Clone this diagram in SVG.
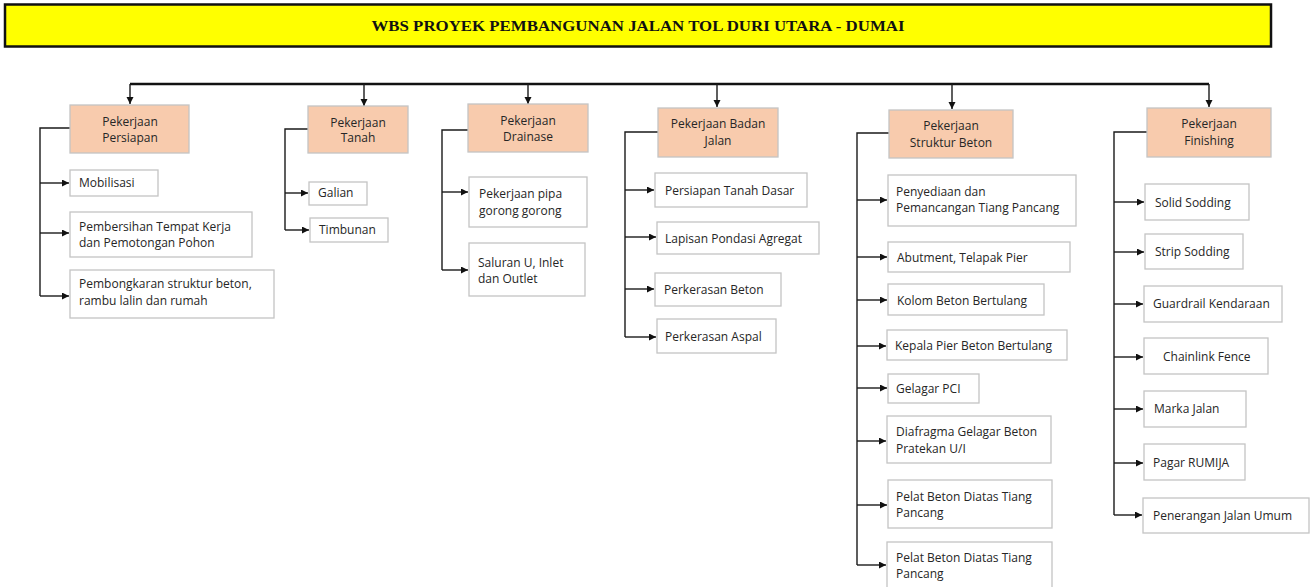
<svg xmlns="http://www.w3.org/2000/svg" width="1312" height="587" viewBox="0 0 1312 587">
<style>
.t{font-family:"Open Sans","Noto Sans",sans-serif;font-size:12px;fill:#262626}
.c{text-anchor:middle}
.h{fill:#F8CBAD;stroke:#C4C4C4;stroke-width:1.3}
.b{fill:#FFFFFF;stroke:#C4C4C4;stroke-width:1.3}
.ln{fill:none;stroke:#1a1a1a;stroke-width:1.4}
.top{fill:none;stroke:#111;stroke-width:2.5}
</style>
<defs>
<marker id="ar" markerUnits="userSpaceOnUse" markerWidth="8" markerHeight="8" refX="7" refY="3.5" orient="auto">
<path d="M0,0 L7,3.5 L0,7 z" fill="#111"/>
</marker>
</defs>
<rect width="1312" height="587" fill="#FFFFFF"/>
<g id="title">
<rect x="5" y="4.5" width="1266" height="42" fill="#FFFF00" stroke="#111" stroke-width="2.5"/>
<text x="638" y="31" text-anchor="middle" font-family="'Liberation Serif',serif" font-weight="bold" font-size="15" fill="#111" textLength="533" lengthAdjust="spacingAndGlyphs">WBS PROYEK PEMBANGUNAN JALAN TOL DURI UTARA - DUMAI</text>
</g>
<g id="connectors">
<path class="top" d="M130,84 H1209"/>
<path class="ln" d="M130,84 V104" marker-end="url(#ar)"/>
<path class="ln" d="M364,84 V106" marker-end="url(#ar)"/>
<path class="ln" d="M528,84 V104" marker-end="url(#ar)"/>
<path class="ln" d="M717,84 V107" marker-end="url(#ar)"/>
<path class="ln" d="M952,84 V109" marker-end="url(#ar)"/>
<path class="ln" d="M1209,84 V107" marker-end="url(#ar)"/>
<path class="ln" d="M70,128 H40 V296"/>
<path class="ln" d="M40,183 H69" marker-end="url(#ar)"/>
<path class="ln" d="M40,233 H69" marker-end="url(#ar)"/>
<path class="ln" d="M40,296 H69" marker-end="url(#ar)"/>
<path class="ln" d="M308,129 H285 V230"/>
<path class="ln" d="M285,193 H308" marker-end="url(#ar)"/>
<path class="ln" d="M285,230 H309" marker-end="url(#ar)"/>
<path class="ln" d="M468,130 H442 V270"/>
<path class="ln" d="M442,192 H468" marker-end="url(#ar)"/>
<path class="ln" d="M442,270 H468" marker-end="url(#ar)"/>
<path class="ln" d="M658,132 H625 V337"/>
<path class="ln" d="M625,190 H654" marker-end="url(#ar)"/>
<path class="ln" d="M625,237 H656" marker-end="url(#ar)"/>
<path class="ln" d="M625,289 H654" marker-end="url(#ar)"/>
<path class="ln" d="M625,337 H656" marker-end="url(#ar)"/>
<path class="ln" d="M889,133 H857 V565"/>
<path class="ln" d="M857,200 H887" marker-end="url(#ar)"/>
<path class="ln" d="M857,257 H887" marker-end="url(#ar)"/>
<path class="ln" d="M857,300 H887" marker-end="url(#ar)"/>
<path class="ln" d="M857,346 H886" marker-end="url(#ar)"/>
<path class="ln" d="M857,388 H887" marker-end="url(#ar)"/>
<path class="ln" d="M857,441 H886" marker-end="url(#ar)"/>
<path class="ln" d="M857,505 H887" marker-end="url(#ar)"/>
<path class="ln" d="M857,565 H886" marker-end="url(#ar)"/>
<path class="ln" d="M1147,132 H1114 V515"/>
<path class="ln" d="M1114,202 H1144" marker-end="url(#ar)"/>
<path class="ln" d="M1114,252 H1144" marker-end="url(#ar)"/>
<path class="ln" d="M1114,304 H1143" marker-end="url(#ar)"/>
<path class="ln" d="M1114,357 H1143" marker-end="url(#ar)"/>
<path class="ln" d="M1114,409 H1143" marker-end="url(#ar)"/>
<path class="ln" d="M1114,463 H1143" marker-end="url(#ar)"/>
<path class="ln" d="M1114,515 H1142" marker-end="url(#ar)"/>
</g>
<g id="n-persiapan"><rect class="h" x="70" y="105" width="119" height="48"/><text class="t c" x="130" y="126">Pekerjaan</text><text class="t c" x="130" y="142">Persiapan</text></g>
<g id="n-mobilisasi"><rect class="b" x="70" y="170" width="88" height="26"/><text class="t" x="79" y="187">Mobilisasi</text></g>
<g id="n-pembersihan"><rect class="b" x="70" y="212" width="182" height="45"/><text class="t" x="79" y="231">Pembersihan Tempat Kerja</text><text class="t" x="79" y="247">dan Pemotongan Pohon</text></g>
<g id="n-pembongkaran"><rect class="b" x="70" y="270" width="204" height="48"/><text class="t" x="79" y="288">Pembongkaran struktur beton,</text><text class="t" x="79" y="305">rambu lalin dan rumah</text></g>
<g id="n-tanah"><rect class="h" x="308" y="106" width="100" height="47"/><text class="t c" x="358" y="127">Pekerjaan</text><text class="t c" x="358" y="142">Tanah</text></g>
<g id="n-galian"><rect class="b" x="309" y="182" width="58" height="23"/><text class="t" x="318" y="197">Galian</text></g>
<g id="n-timbunan"><rect class="b" x="310" y="218" width="78" height="24"/><text class="t" x="319" y="234">Timbunan</text></g>
<g id="n-drainase"><rect class="h" x="468" y="104" width="120" height="48"/><text class="t c" x="528" y="125">Pekerjaan</text><text class="t c" x="528" y="141">Drainase</text></g>
<g id="n-pipa"><rect class="b" x="469" y="177" width="118" height="50"/><text class="t" x="479" y="198">Pekerjaan pipa</text><text class="t" x="479" y="215">gorong gorong</text></g>
<g id="n-saluran"><rect class="b" x="469" y="243" width="116" height="53"/><text class="t" x="478" y="267">Saluran U, Inlet</text><text class="t" x="478" y="283">dan Outlet</text></g>
<g id="n-badan"><rect class="h" x="658" y="108" width="120" height="49"/><text class="t c" x="718" y="128">Pekerjaan Badan</text><text class="t c" x="718" y="145">Jalan</text></g>
<g id="n-tanahdasar"><rect class="b" x="655" y="173" width="152" height="34"/><text class="t" x="665" y="195">Persiapan Tanah Dasar</text></g>
<g id="n-lapisan"><rect class="b" x="657" y="222" width="162" height="32"/><text class="t" x="665" y="243">Lapisan Pondasi Agregat</text></g>
<g id="n-pbeton"><rect class="b" x="655" y="273" width="126" height="33"/><text class="t" x="664" y="294">Perkerasan Beton</text></g>
<g id="n-paspal"><rect class="b" x="657" y="319" width="119" height="34"/><text class="t" x="665" y="341">Perkerasan Aspal</text></g>
<g id="n-struktur"><rect class="h" x="889" y="110" width="124" height="48"/><text class="t c" x="951" y="130">Pekerjaan</text><text class="t c" x="951" y="147">Struktur Beton</text></g>
<g id="n-penyediaan"><rect class="b" x="888" y="175" width="188" height="51"/><text class="t" x="896" y="196">Penyediaan dan</text><text class="t" x="896" y="212">Pemancangan Tiang Pancang</text></g>
<g id="n-abutment"><rect class="b" x="888" y="242" width="182" height="30"/><text class="t" x="897" y="262">Abutment, Telapak Pier</text></g>
<g id="n-kolom"><rect class="b" x="888" y="284" width="156" height="31"/><text class="t" x="897" y="305">Kolom Beton Bertulang</text></g>
<g id="n-kepala"><rect class="b" x="887" y="330" width="180" height="30"/><text class="t" x="895" y="350">Kepala Pier Beton Bertulang</text></g>
<g id="n-gelagar"><rect class="b" x="888" y="374" width="91" height="29"/><text class="t" x="896" y="393">Gelagar PCI</text></g>
<g id="n-diafragma"><rect class="b" x="887" y="416" width="164" height="47"/><text class="t" x="896" y="436">Diafragma Gelagar Beton</text><text class="t" x="896" y="453">Pratekan U/I</text></g>
<g id="n-pelat1"><rect class="b" x="888" y="480" width="164" height="48"/><text class="t" x="896" y="501">Pelat Beton Diatas Tiang</text><text class="t" x="896" y="517">Pancang</text></g>
<g id="n-pelat2"><rect class="b" x="887" y="542" width="165" height="50"/><text class="t" x="896" y="562">Pelat Beton Diatas Tiang</text><text class="t" x="896" y="578">Pancang</text></g>
<g id="n-finishing"><rect class="h" x="1147" y="108" width="124" height="49"/><text class="t c" x="1209" y="128">Pekerjaan</text><text class="t c" x="1209" y="145">Finishing</text></g>
<g id="n-solid"><rect class="b" x="1145" y="184" width="104" height="36"/><text class="t" x="1155" y="207">Solid Sodding</text></g>
<g id="n-strip"><rect class="b" x="1145" y="234" width="98" height="35"/><text class="t" x="1155" y="256">Strip Sodding</text></g>
<g id="n-guardrail"><rect class="b" x="1144" y="286" width="138" height="36"/><text class="t" x="1153" y="308">Guardrail Kendaraan</text></g>
<g id="n-chainlink"><rect class="b" x="1144" y="338" width="124" height="36"/><text class="t" x="1163" y="361">Chainlink Fence</text></g>
<g id="n-marka"><rect class="b" x="1144" y="391" width="102" height="36"/><text class="t" x="1154" y="413">Marka Jalan</text></g>
<g id="n-pagar"><rect class="b" x="1144" y="444" width="101" height="36"/><text class="t" x="1153" y="467">Pagar RUMIJA</text></g>
<g id="n-penerangan"><rect class="b" x="1143" y="498" width="166" height="35"/><text class="t" x="1153" y="520">Penerangan Jalan Umum</text></g>
</svg>
